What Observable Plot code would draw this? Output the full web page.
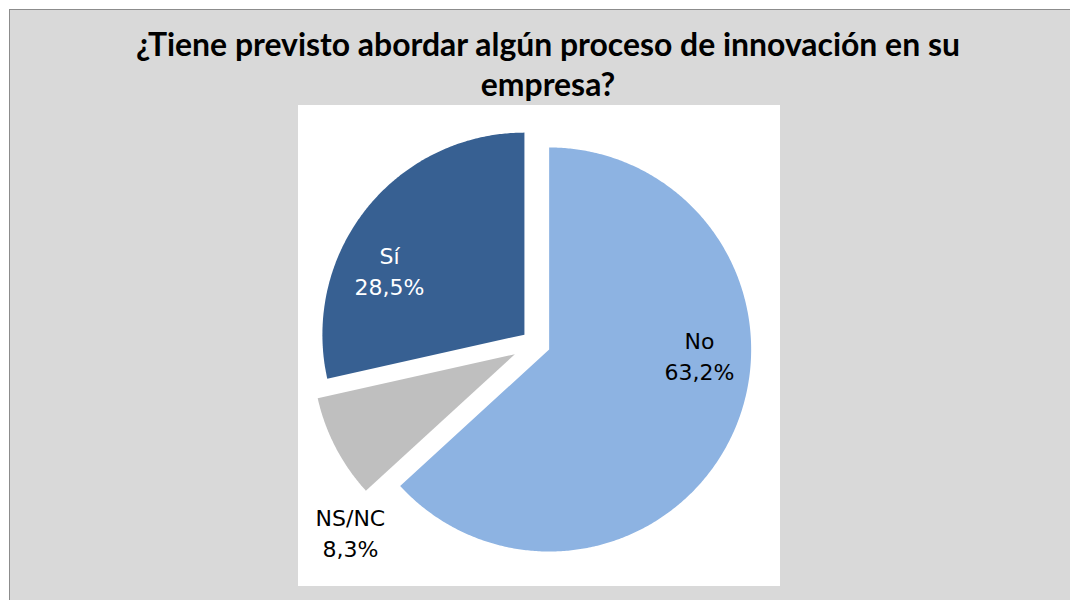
<!DOCTYPE html>
<html>
<head>
<meta charset="utf-8">
<script src="https://cdn.jsdelivr.net/npm/d3@7"></script>
<script src="https://cdn.jsdelivr.net/npm/@observablehq/plot@0.6"></script>
<style>
  html, body { margin: 0; padding: 0; background: #ffffff; width: 1070px; height: 600px; overflow: hidden; }
  #frame { position: absolute; left: 9px; top: 9px; width: 1061px; height: 591px; background: #d9d9d9;
           border-left: 1px solid #8c8c8c; border-top: 1px solid #8c8c8c; box-sizing: border-box; }
  #title { position: absolute; left: 13px; width: 1070px; text-align: center; white-space: nowrap;
           font-weight: bold; color: #000; }
  #chart { position: absolute; left: 298px; top: 105px; }
</style>
</head>
<body>
<div id="frame"></div>
<div id="title"></div>
<div id="chart"></div>
<script>
// ---- data ----
const titleLines = ["¿Tiene previsto abordar algún proceso de innovación en su", "empresa?"];
const categories = ["No", "NS/NC", "Sí"];
const values = [63.2, 8.3, 28.5];

// ---- style / layout ----
const colors = ["#8db3e2", "#bfbfbf", "#376092"];
const labelColors = ["#000000", "#000000", "#ffffff"];
const explode = [0.074, 0.115, 0.07];          // slice explosion, in radius units
const labelAngle = [93.8, 224.5, 296.9];       // degrees clockwise from 12 o'clock
const labelRadius = [0.814, 1.307, 0.81];      // in radius units

// ---- title ----
const titleFont = "Lato";
const cv = document.createElement("canvas").getContext("2d");
cv.font = `bold 30px ${titleFont}`;
const w1 = cv.measureText(titleLines[0]).width;
const tSize = 30 * 825 / w1;
cv.font = `bold ${tSize}px ${titleFont}`;
const m = cv.measureText(titleLines[0]);
const asc = m.fontBoundingBoxAscent || tSize * 0.99;
const desc = m.fontBoundingBoxDescent || tSize * 0.21;
const lineBox = Math.max(37, Math.ceil(asc + desc) + 1);
const baseInBox = (lineBox - (asc + desc)) / 2 + asc;
const tEl = document.getElementById("title");
titleLines.forEach((line, i) => {
  if (i > 0) tEl.appendChild(document.createElement("br"));
  tEl.appendChild(document.createTextNode(line));
});
tEl.style.fontFamily = titleFont;
tEl.style.fontSize = tSize + "px";
tEl.style.lineHeight = lineBox + "px";
tEl.style.top = (56 - baseInBox) + "px";

// ---- pie geometry from data ----
const total = d3.sum(values);
let acc = 0;
const rad = a => a * Math.PI / 180;
const points = [];
const labels = [];
categories.forEach((cat, i) => {
  const a0 = acc / total * 360;
  acc += values[i];
  const a1 = acc / total * 360;
  const mid = (a0 + a1) / 2;
  const ox = explode[i] * Math.sin(rad(mid));
  const oy = explode[i] * Math.cos(rad(mid));
  points.push({cat, x: ox, y: oy});
  const n = Math.max(2, Math.ceil((a1 - a0) / 0.5));
  for (let k = 0; k <= n; k++) {
    const a = a0 + (a1 - a0) * k / n;
    points.push({cat, x: ox + Math.sin(rad(a)), y: oy + Math.cos(rad(a))});
  }
  labels.push({
    cat,
    text: `${cat}\n${values[i].toFixed(1).replace(".", ",")}%`,
    x: labelRadius[i] * Math.sin(rad(labelAngle[i])),
    y: labelRadius[i] * Math.cos(rad(labelAngle[i])),
    color: labelColors[i]
  });
});

const chart = Plot.plot({
  width: 482,
  height: 481,
  margin: 0,
  style: {background: "#ffffff", overflow: "visible"},
  x: {domain: [-1.173, 1.213], axis: null},
  y: {domain: [-1.203, 1.178], axis: null},
  color: {domain: categories, range: colors},
  marks: [
    Plot.line(points, {x: "x", y: "y", z: "cat", fill: "cat", stroke: "none", curve: "linear-closed"}),
    Plot.text(labels, {filter: d => d.color === "#000000", x: "x", y: "y", text: "text", fill: "#000000",
      fontSize: 22, fontFamily: "DejaVu Sans", lineHeight: 1.42}),
    Plot.text(labels, {filter: d => d.color === "#ffffff", x: "x", y: "y", text: "text", fill: "#ffffff",
      fontSize: 22, fontFamily: "DejaVu Sans", lineHeight: 1.42})
  ]
});
document.getElementById("chart").appendChild(chart);
</script>
</body>
</html>
